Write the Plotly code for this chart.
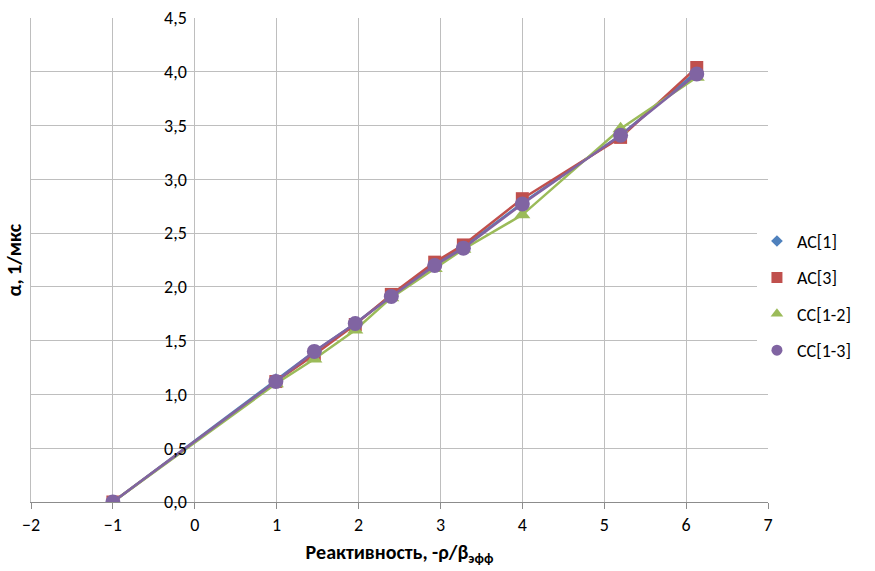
import plotly.graph_objects as go

x_vals = [-1.0, 0.99, 1.46, 1.96, 2.40, 2.93, 3.28, 4.00, 5.20, 6.13]
ac1 = [0.0, 1.13, 1.40, 1.66, 1.92, 2.21, 2.37, 2.78, 3.41, 4.00]
ac3 = [0.0, 1.12, 1.37, 1.65, 1.93, 2.23, 2.39, 2.82, 3.39, 4.04]
cc12 = [0.0, 1.10, 1.33, 1.60, 1.90, 2.17, 2.35, 2.67, 3.47, 3.95]
cc13 = [0.0, 1.12, 1.40, 1.66, 1.91, 2.20, 2.36, 2.77, 3.41, 3.98]

names = ["AC[1]", "AC[3]", "CC[1-2]", "CC[1-3]"]
series = [ac1, ac3, cc12, cc13]
colors = ["#4F81BD", "#C0504D", "#9BBB59", "#8064A2"]
symbols = ["diamond", "square", "triangle-up", "circle"]
sizes = [11, 13, 14, 15]
legend_sizes = [9, 11, 11, 11]

x_ticks = [-2, -1, 0, 1, 2, 3, 4, 5, 6, 7]
y_ticks = [0, 0.5, 1.0, 1.5, 2.0, 2.5, 3.0, 3.5, 4.0, 4.5]

fig = go.Figure()
for n, s, c, sym, sz in zip(names, series, colors, symbols, sizes):
    fig.add_trace(go.Scatter(
        x=x_vals, y=s, name=n, mode="lines+markers", legendgroup=n,
        showlegend=False,
        line=dict(color=c, width=2.5),
        marker=dict(symbol=sym, size=sz, color=c),
    ))
# legend entries (marker only, like the original)
for n, c, sym, lsz in zip(names, colors, symbols, legend_sizes):
    fig.add_trace(go.Scatter(
        x=[None], y=[None], name=n, mode="markers", legendgroup=n,
        marker=dict(symbol=sym, size=lsz, color=c),
    ))

font_family = "Carlito, Lato, 'Open Sans', sans-serif"
grid_c = "#BEBEBE"
fig.update_layout(
    width=875, height=571,
    margin=dict(l=31, r=107, t=18, b=69, autoexpand=False),
    paper_bgcolor="white", plot_bgcolor="white",
    separators=", ",
    font=dict(family=font_family, size=18, color="#000000"),
    showlegend=True,
    legend=dict(x=0.985, y=0.426, xanchor="left", yanchor="middle",
                font=dict(size=18, color="#000000"),
                tracegroupgap=10, itemwidth=30),
    xaxis=dict(range=[-2, 7], tickvals=x_ticks, showgrid=True,
               gridcolor=grid_c, gridwidth=1, automargin=False,
               showline=True, linecolor="#8C8C8C", zeroline=False,
               ticks="outside", ticklen=6, tickcolor="#8C8C8C",
               tickfont=dict(size=18),
               title=dict(text="<b>Реактивность, -ρ/β<sub>эфф</sub></b>",
                          font=dict(size=20), standoff=10)),
    yaxis=dict(range=[0, 4.5], tickvals=y_ticks, showticklabels=False,
               showgrid=True, gridcolor=grid_c, gridwidth=1, automargin=False,
               showline=True, linecolor=grid_c, zeroline=False, ticks=""),
    yaxis2=dict(range=[0, 4.5], tickvals=y_ticks, tickformat=".1f",
                overlaying="y", anchor="free", position=2/9 - 8/737, side="left",
                showgrid=False, showline=False, zeroline=False, ticks="",
                tickfont=dict(size=18), automargin=False),
    annotations=[dict(text="<b>α, 1/мкс</b>", xref="paper", yref="paper",
                      x=-0.0225, y=0.5, textangle=-90, showarrow=False,
                      font=dict(size=20), xanchor="center", yanchor="middle")],
)
# a hidden trace so the label axis at x = 0 is drawn
fig.add_trace(go.Scatter(x=[None], y=[None], yaxis="y2", showlegend=False, hoverinfo="skip"))

fig.write_html("out.html")
